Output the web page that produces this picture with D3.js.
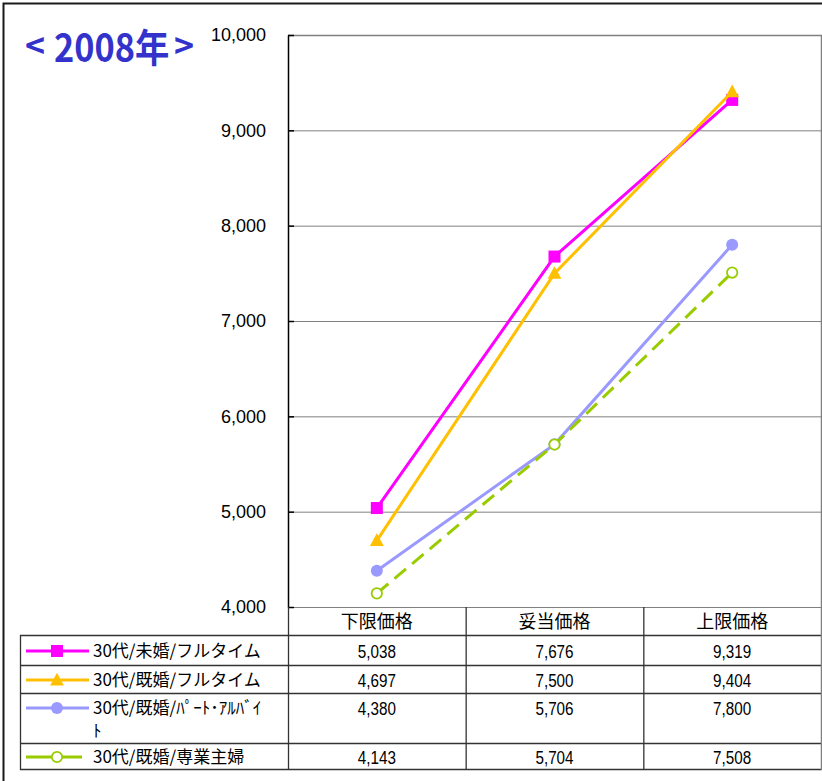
<!DOCTYPE html>
<html>
<head>
<meta charset="utf-8">
<script src="https://cdn.jsdelivr.net/npm/d3@7/dist/d3.min.js"></script>
<style>
  html, body { margin: 0; padding: 0; background: #fff; }
  svg { display: block; }
  .num { font-family: "Liberation Sans", Arial, sans-serif; font-size: 17.5px; fill: #000; }
  .jp { font-family: "Noto Sans CJK JP", sans-serif; font-size: 17px; fill: #000; }
</style>
</head>
<body>
<svg id="chart" width="822" height="781"></svg>
<script>
// Price points surveyed (columns of the table / x categories)
const categories = ["下限価格", "妥当価格", "上限価格"];

// Respondent groups
const seriesNames = [
  "30代/未婚/フルタイム",
  "30代/既婚/フルタイム",
  "30代/既婚/ﾊﾟｰﾄ･ｱﾙﾊﾞｲﾄ",
  "30代/既婚/専業主婦"
];

// Values per group, in category order
const singleFullTime  = [5038, 7676, 9319];
const marriedFullTime = [4697, 7500, 9404];
const marriedPartTime = [4380, 5706, 7800];
const housewife       = [4143, 5704, 7508];

// Y axis ticks
const yTicks = [4000, 5000, 6000, 7000, 8000, 9000, 10000];

const titleYear = "2008年";

const series = [
  { name: seriesNames[0], values: singleFullTime,  color: "#FF00FF", marker: "square",   dash: null },
  { name: seriesNames[1], values: marriedFullTime, color: "#FFC000", marker: "triangle", dash: null },
  { name: seriesNames[2], values: marriedPartTime, color: "#9999FF", marker: "circle",   dash: null },
  { name: seriesNames[3], values: housewife,       color: "#99CC00", marker: "open",     dash: "15,8" }
];

const svg = d3.select("#chart");
const fmt = d3.format(",");

// Plot area
const plot = { left: 288, right: 821, top: 35, bottom: 607 };

const x = d3.scaleBand().domain(categories).range([plot.left, plot.right]).padding(0);
const y = d3.scaleLinear().domain([4000, 10000]).range([plot.bottom, plot.top]);

// Outer frame
svg.append("path")
  .attr("d", "M3.5,781 V3.5 H822")
  .attr("fill", "none").attr("stroke", "#1a1a1a").attr("stroke-width", 2);

// Title: ＜ 2008年 ＞
const title = svg.append("g")
  .style("font-family", "'Noto Sans CJK JP', sans-serif")
  .style("font-weight", "bold")
  .attr("fill", "#3333CC");
title.append("text").attr("x", 25).attr("y", 58).style("font-size", "34px").text("<");
title.append("text")
  .attr("transform", "translate(54,62) scale(0.88,1)")
  .style("font-size", "39px").text(titleYear);
title.append("text").attr("x", 174).attr("y", 58).style("font-size", "34px").text(">");

// Gridlines
svg.append("g")
  .attr("transform", `translate(${plot.left},0)`)
  .call(d3.axisLeft(y).tickValues(yTicks).tickSize(-(plot.right - plot.left)).tickFormat(""))
  .call(g => g.select(".domain").remove())
  .call(g => g.selectAll("line").attr("stroke", "#808080").attr("stroke-width", 1));

// Plot border (top and right)
svg.append("path")
  .attr("d", `M${plot.left},${plot.top + 0.5} H${plot.right + 0.5} V${plot.bottom}`)
  .attr("fill", "none").attr("stroke", "#808080").attr("stroke-width", 1.5);

// Y axis with inward ticks
const yAxis = svg.append("g")
  .attr("transform", `translate(${plot.left},0)`)
  .call(d3.axisLeft(y).tickValues(yTicks).tickSizeInner(-6).tickSizeOuter(0).tickPadding(22).tickFormat(fmt));
yAxis.select(".domain").attr("stroke", "#000").attr("stroke-width", 1.5);
yAxis.selectAll(".tick line").attr("stroke", "#000").attr("stroke-width", 1.5);
yAxis.selectAll(".tick text")
  .style("font-family", "'Liberation Sans', Arial, sans-serif")
  .style("font-size", "18px").attr("fill", "#000");

// Marker drawing helper
function drawMarker(g, s, cx, cy, size) {
  if (s.marker === "square") {
    g.append("rect").attr("x", cx - size / 2).attr("y", cy - size / 2)
      .attr("width", size).attr("height", size).attr("fill", s.color);
  } else if (s.marker === "triangle") {
    const h = size * 1.0, w = size * 1.15;
    g.append("path")
      .attr("d", `M${cx},${cy - h * 0.6} L${cx + w / 2},${cy + h * 0.45} L${cx - w / 2},${cy + h * 0.45} Z`)
      .attr("fill", s.color);
  } else if (s.marker === "circle") {
    g.append("circle").attr("cx", cx).attr("cy", cy).attr("r", size / 2).attr("fill", s.color);
  } else {
    g.append("circle").attr("cx", cx).attr("cy", cy).attr("r", size / 2 - 0.8)
      .attr("fill", "#fff").attr("stroke", s.color).attr("stroke-width", 1.8);
  }
}

const line = d3.line()
  .x((d, i) => x(categories[i]) + x.bandwidth() / 2)
  .y(d => y(d));

// Series lines and markers
series.forEach(s => {
  const g = svg.append("g");
  g.append("path")
    .attr("d", line(s.values))
    .attr("fill", "none")
    .attr("stroke", s.color)
    .attr("stroke-width", 3)
    .attr("stroke-dasharray", s.dash);
  s.values.forEach((v, i) => {
    drawMarker(g, s, x(categories[i]) + x.bandwidth() / 2, y(v), 12);
  });
});

// Data table
const tableLeft = 20;
const rowEdges = [607, 635, 665, 693, 743, 769];
const lineColor = "#333";

const table = svg.append("g");

// Header row
categories.forEach(c => {
  table.append("text").attr("class", "jp").style("font-size", "18px")
    .attr("x", x(c) + x.bandwidth() / 2).attr("y", 628)
    .attr("text-anchor", "middle").text(c);
});

// Horizontal rules
rowEdges.slice(1).forEach(yy => {
  table.append("line")
    .attr("x1", tableLeft).attr("x2", plot.right + 0.5)
    .attr("y1", yy + 0.5).attr("y2", yy + 0.5)
    .attr("stroke", lineColor).attr("stroke-width", 1.3);
});

// Vertical rules
table.append("line")
  .attr("x1", tableLeft + 0.5).attr("x2", tableLeft + 0.5)
  .attr("y1", rowEdges[1]).attr("y2", rowEdges[5] + 1)
  .attr("stroke", lineColor).attr("stroke-width", 1.3);
categories.forEach(c => {
  table.append("line")
    .attr("x1", x(c) + 0.5).attr("x2", x(c) + 0.5)
    .attr("y1", plot.bottom).attr("y2", rowEdges[5] + 1)
    .attr("stroke", lineColor).attr("stroke-width", 1.3);
});
table.append("line")
  .attr("x1", plot.right + 0.5).attr("x2", plot.right + 0.5)
  .attr("y1", plot.bottom).attr("y2", rowEdges[5] + 1)
  .attr("stroke", "#808080").attr("stroke-width", 1.5);

// Rows: legend key, label, values
const rowCenters = [651, 680, 708, 757];
series.forEach((s, r) => {
  const cy = rowCenters[r];
  const g = table.append("g");
  g.append("line")
    .attr("x1", 26).attr("x2", s.dash ? 82 : 89).attr("y1", cy).attr("y2", cy)
    .attr("stroke", s.color).attr("stroke-width", 3);
  drawMarker(g, s, 57, cy, 12);

  const label = g.append("text").attr("class", "jp").attr("x", 93).attr("y", cy + 6);
  if (r === 2) {
    // long label wraps inside its cell
    label.append("tspan").attr("x", 93).text(s.name.slice(0, -1));
    label.append("tspan").attr("x", 93).attr("dy", 23).text(s.name.slice(-1));
  } else {
    label.text(s.name);
  }

  s.values.forEach((v, i) => {
    const cx = x(categories[i]) + x.bandwidth() / 2;
    // table figures are set slightly condensed
    g.append("text").attr("class", "num")
      .attr("transform", `translate(${cx},${cy + 6.5}) scale(0.87,1)`)
      .attr("text-anchor", "middle").text(fmt(v));
  });
});
</script>
</body>
</html>
